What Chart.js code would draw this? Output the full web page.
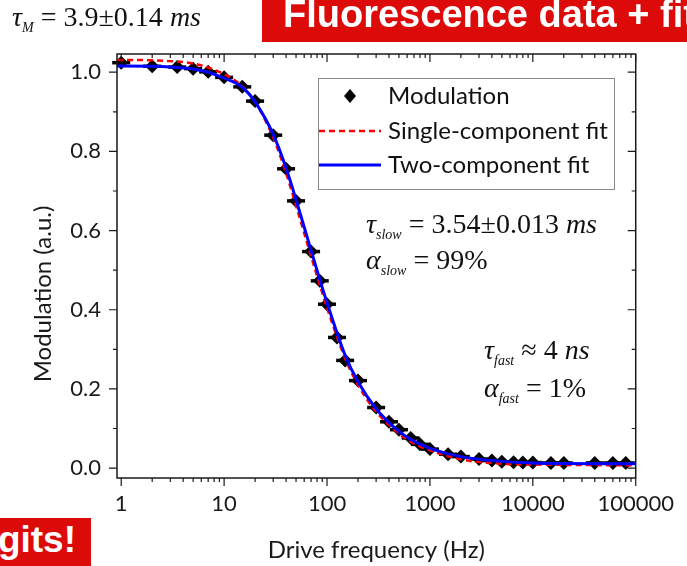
<!DOCTYPE html>
<html>
<head>
<meta charset="utf-8">
<title>Fluorescence modulation</title>
<script src="https://cdn.jsdelivr.net/npm/chart.js@4.4.1/dist/chart.umd.min.js"></script>
<style>
  html, body { margin: 0; padding: 0; background: #fff; }
  #wrap { position: relative; width: 687px; height: 566px; overflow: hidden; }
  #wrap canvas { position: absolute; left: 0; top: 0; }
  .note { position: absolute; font-family: "Liberation Serif", "Times New Roman", serif; white-space: nowrap; color: #111; line-height: 1; }
  .note sub { font-style: italic; font-size: 0.5em; vertical-align: -0.4em; }
  .banner { position: absolute; background: #dd0a0a; overflow: hidden; }
  .banner span { position: absolute; color: #fff; font-family: "Liberation Sans", Arial, sans-serif; font-weight: bold; white-space: nowrap; line-height: 1; }
</style>
</head>
<body>
<div id="wrap">
  <canvas id="modChart" width="687" height="566"></canvas>

  <div class="note" style="left:12px; top:3px; font-size:28px;"><i>τ</i><sub>M</sub> = 3.9±0.14 <i>ms</i></div>
  <div class="banner" style="left:262px; top:0; width:425px; height:42px;"><span style="left:21px; top:-5px; font-size:38px;">Fluorescence data + fit</span></div>
  <div class="banner" style="left:0; top:518px; width:91px; height:48px;"><span style="right:15px; top:3px; font-size:37px;">gits!</span></div>

  <div class="note" style="left:366px; top:210px; font-size:28px;"><i>τ</i><sub>slow</sub> = 3.54±0.013<i> ms</i></div>
  <div class="note" style="left:366px; top:246px; font-size:28px;"><i>α</i><sub>slow</sub> = 99%</div>
  <div class="note" style="left:484px; top:336px; font-size:28px;"><i>τ</i><sub>fast</sub> ≈ 4<i> ns</i></div>
  <div class="note" style="left:484px; top:374px; font-size:28px;"><i>α</i><sub>fast</sub> = 1%</div>
</div>

<script>
// measured modulation (drive frequency in Hz)
const freqs = [1, 2, 3.5, 5, 7, 10, 15, 20, 30, 40, 50, 70, 85, 100, 125, 150, 200,
    300, 400, 500, 650, 800, 1000, 1500, 2000, 3000, 4000, 5000, 6500, 8000, 10000,
    15000, 20000, 40000, 60000, 80000];
const modulation = [1.024, 1.015, 1.013, 1.009, 1.001, 0.987, 0.963, 0.927, 0.841, 0.756,
    0.675, 0.547, 0.473, 0.414, 0.330, 0.272, 0.221, 0.153, 0.117, 0.097, 0.076, 0.060,
    0.048, 0.035, 0.029, 0.023, 0.019, 0.016, 0.015, 0.014, 0.014, 0.013, 0.013, 0.013,
    0.013, 0.013];

// fit curves
const fitFreqs = [0.91, 1, 2, 3, 5, 7, 10, 15, 20, 30, 40, 50, 70, 100, 150, 200, 300,
    500, 700, 1000, 2000, 5000, 10000, 100000];
const singleFit = [1.031, 1.031, 1.030, 1.028, 1.022, 1.012, 0.995, 0.965, 0.925, 0.835,
    0.745, 0.663, 0.535, 0.405, 0.277, 0.210, 0.143, 0.087, 0.062, 0.045, 0.022, 0.011,
    0.009, 0.007];
const twoFit = [1.016, 1.016, 1.015, 1.013, 1.008, 1.000, 0.985, 0.962, 0.925, 0.843,
    0.758, 0.678, 0.550, 0.418, 0.285, 0.218, 0.150, 0.093, 0.068, 0.050, 0.029, 0.017,
    0.013, 0.011];

const xTicks = [1, 10, 100, 1000, 10000, 100000];
const yTicks = [0, 0.2, 0.4, 0.6, 0.8, 1.0];

const FONT = "Lato, 'Open Sans', sans-serif";
const AXIS = "#1a1a1a";

function toPoints(xs, ys) {
    return xs.map((x, i) => ({ x: x, y: ys[i] }));
}

// frame, mirrored ticks, error bars, legend and y title
const framePlugin = {
    id: "frame",
    beforeDatasetsDraw(chart) {
        const ctx = chart.ctx;
        const xs = chart.scales.x, ys = chart.scales.y;
        ctx.save();
        ctx.strokeStyle = "#000";
        ctx.lineWidth = 3.5;
        freqs.forEach((f, i) => {
            const px = xs.getPixelForValue(f);
            const py = ys.getPixelForValue(modulation[i]);
            ctx.beginPath();
            ctx.moveTo(px - 9, py);
            ctx.lineTo(px + 9, py);
            ctx.stroke();
        });
        ctx.restore();
    },
    afterDraw(chart) {
        const ctx = chart.ctx;
        const { left, right, top, bottom } = chart.chartArea;
        const xs = chart.scales.x, ys = chart.scales.y;

        ctx.save();
        ctx.strokeStyle = AXIS;
        ctx.lineWidth = 1.5;
        ctx.strokeRect(left, top, right - left, bottom - top);

        ctx.lineWidth = 1.2;
        ctx.beginPath();
        // x ticks: outward at bottom, inward at top
        for (let d = 0; d <= 5; d++) {
            for (let m = 1; m <= 9; m++) {
                const v = m * Math.pow(10, d);
                if (v > xs.max) break;
                const px = xs.getPixelForValue(v);
                const len = m === 1 ? 8 : 4;
                ctx.moveTo(px, bottom);
                ctx.lineTo(px, bottom + len);
                ctx.moveTo(px, top);
                ctx.lineTo(px, top + len);
            }
        }
        // y ticks: outward at left, inward at right
        for (let k = 0; k <= 10; k++) {
            const py = ys.getPixelForValue(k / 10);
            const len = k % 2 === 0 ? 8 : 4;
            ctx.moveTo(left, py);
            ctx.lineTo(left - len, py);
            ctx.moveTo(right, py);
            ctx.lineTo(right - len, py);
        }
        ctx.stroke();

        // y axis title
        ctx.fillStyle = AXIS;
        ctx.font = "24px " + FONT;
        ctx.textAlign = "center";
        ctx.textBaseline = "middle";
        ctx.translate(43, 294);
        ctx.rotate(-Math.PI / 2);
        ctx.fillText("Modulation (a.u.)", 0, 0);
        ctx.restore();

        // legend box
        ctx.save();
        const bx = 318, by = 78, bw = 296, bh = 111;
        ctx.fillStyle = "#fff";
        ctx.fillRect(bx, by, bw, bh);
        ctx.strokeStyle = "#888";
        ctx.lineWidth = 1;
        ctx.strokeRect(bx + 0.5, by + 0.5, bw, bh);

        const ds = chart.data.datasets;
        const rows = [96, 131, 165];
        const order = [2, 1, 0];
        ctx.font = "24px " + FONT;
        ctx.textBaseline = "middle";
        ctx.textAlign = "left";
        order.forEach((di, r) => {
            const d = ds[di];
            const y = rows[r];
            if (d.showLine === false) {
                ctx.fillStyle = "#000";
                ctx.beginPath();
                ctx.moveTo(350, y - 7);
                ctx.lineTo(356, y);
                ctx.lineTo(350, y + 7);
                ctx.lineTo(344, y);
                ctx.closePath();
                ctx.fill();
            } else {
                ctx.strokeStyle = d.borderColor;
                ctx.lineWidth = d.borderWidth;
                ctx.setLineDash(d.borderDash || []);
                ctx.beginPath();
                ctx.moveTo(319, y);
                ctx.lineTo(381, y);
                ctx.stroke();
                ctx.setLineDash([]);
            }
            ctx.fillStyle = "#111";
            ctx.fillText(d.label, 388, y);
        });
        ctx.restore();
    }
};

const ctx = document.getElementById("modChart").getContext("2d");
const modChart = new Chart(ctx, {
    type: "scatter",
    data: {
        datasets: [
            {
                label: "Two-component fit",
                data: toPoints(fitFreqs, twoFit),
                showLine: true,
                borderColor: "#0000ff",
                borderWidth: 3,
                pointRadius: 0,
                cubicInterpolationMode: "monotone"
            },
            {
                label: "Single-component fit",
                data: toPoints(fitFreqs, singleFit),
                showLine: true,
                borderColor: "#ff0000",
                borderWidth: 2.5,
                borderDash: [6, 4],
                pointRadius: 0,
                cubicInterpolationMode: "monotone"
            },
            {
                label: "Modulation",
                data: toPoints(freqs, modulation),
                showLine: false,
                pointStyle: "rectRot",
                pointRadius: 7,
                backgroundColor: "#000",
                borderColor: "#000",
                borderWidth: 0
            }
        ]
    },
    options: {
        responsive: false,
        animation: false,
        devicePixelRatio: 1,
        layout: { padding: { top: 54, right: 45, left: 0, bottom: 0 } },
        plugins: {
            legend: { display: false },
            tooltip: { enabled: false }
        },
        scales: {
            x: {
                type: "logarithmic",
                min: 0.91,
                max: 100000,
                grid: { display: false, drawTicks: false },
                border: { display: false },
                afterBuildTicks: scale => { scale.ticks = xTicks.map(v => ({ value: v })); },
                afterFit: scale => { scale.height = 88; },
                ticks: {
                    padding: 13,
                    color: AXIS,
                    font: { family: FONT, size: 22 },
                    maxRotation: 0,
                    autoSkip: false,
                    callback: v => String(v)
                },
                title: {
                    display: true,
                    text: "Drive frequency (Hz)",
                    color: AXIS,
                    font: { family: FONT, size: 24 },
                    padding: { top: 0, bottom: 1 }
                }
            },
            y: {
                min: -0.025,
                max: 1.046,
                grid: { display: false, drawTicks: false },
                border: { display: false },
                afterBuildTicks: scale => { scale.ticks = yTicks.map(v => ({ value: v })); },
                afterFit: scale => { scale.width = 117; },
                ticks: {
                    padding: 16,
                    color: AXIS,
                    font: { family: FONT, size: 22 },
                    callback: v => v.toFixed(1)
                }
            }
        }
    },
    plugins: [framePlugin]
});
</script>
</body>
</html>
